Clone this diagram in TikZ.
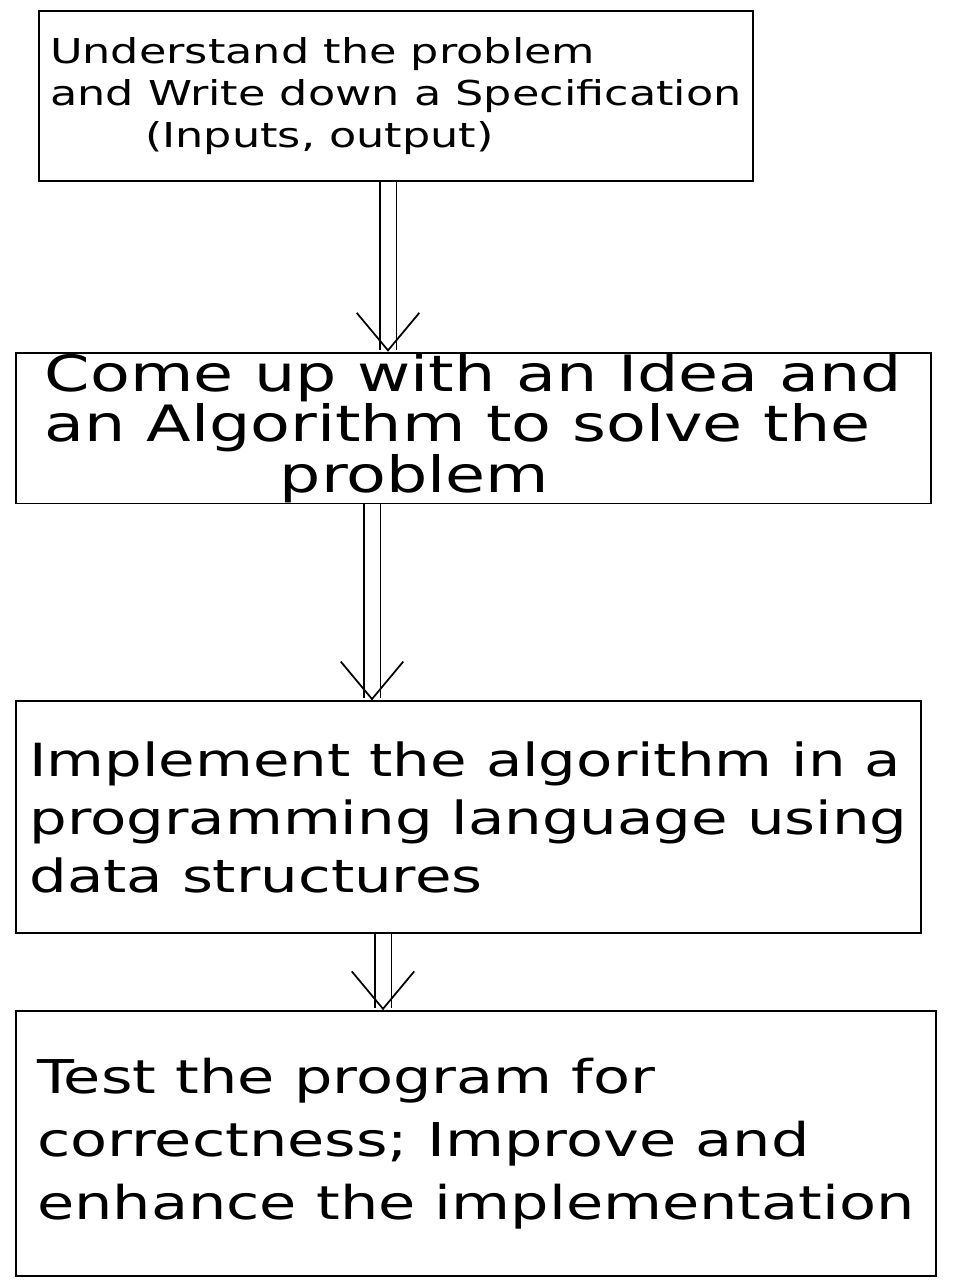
\documentclass[tikz,border=0pt]{standalone}
\usepackage{fontspec}
\setmainfont{DejaVu Sans}[FakeStretch=1.3]
\usetikzlibrary{positioning,arrows.meta}

\begin{document}
\begin{tikzpicture}[
    stage/.style={rectangle, draw, line width=1pt, inner xsep=0.2cm, inner ysep=0.02cm,
        anchor=north west, align=left},
    twin/.style={double, double distance=0.3cm, line width=1pt,
        -{Straight Barb[length=0.75cm, width=1.25cm]}}
]
\useasboundingbox (0,0) rectangle (19.58,-25.7);

\node [stage, minimum width=14.28cm, minimum height=3.4cm,
    font=\fontsize{19.5}{24}\selectfont] (spec) at (0.76,-0.2)
    {Understand the problem\\and Write down a Specification\\\hspace*{1.9cm}(Inputs, output)};
\node [stage, minimum width=18.3cm, minimum height=2.94cm,
    font=\fontsize{28.5}{24.5}\selectfont,
    below=3.4cm of spec.south west, anchor=north west, xshift=-0.46cm] (idea)
    {Come up with an Idea and\\an Algorithm to solve the\\\hspace*{4.7cm}problem};
\node [stage, minimum width=18.1cm, minimum height=4.64cm,
    font=\fontsize{26}{33}\selectfont,
    below=3.92cm of idea.south west, anchor=north west] (code)
    {Implement the algorithm in a\\programming language using\\data structures};
\node [stage, minimum width=18.4cm, minimum height=5.3cm,
    font=\fontsize{26.5}{36}\selectfont,
    below=1.52cm of code.south west, anchor=north west] (test)
    {Test the program for\\correctness; Improve and\\enhance the implementation};

\draw [twin] ([xshift=7cm]spec.south west) -- ([xshift=7cm]spec.south west |- idea.north);
\draw [twin] ([xshift=7.14cm]idea.south west) -- ([xshift=7.14cm]idea.south west |- code.north);
\draw [twin] ([xshift=7.36cm]code.south west) -- ([xshift=7.36cm]code.south west |- test.north);

\end{tikzpicture}
\end{document}
